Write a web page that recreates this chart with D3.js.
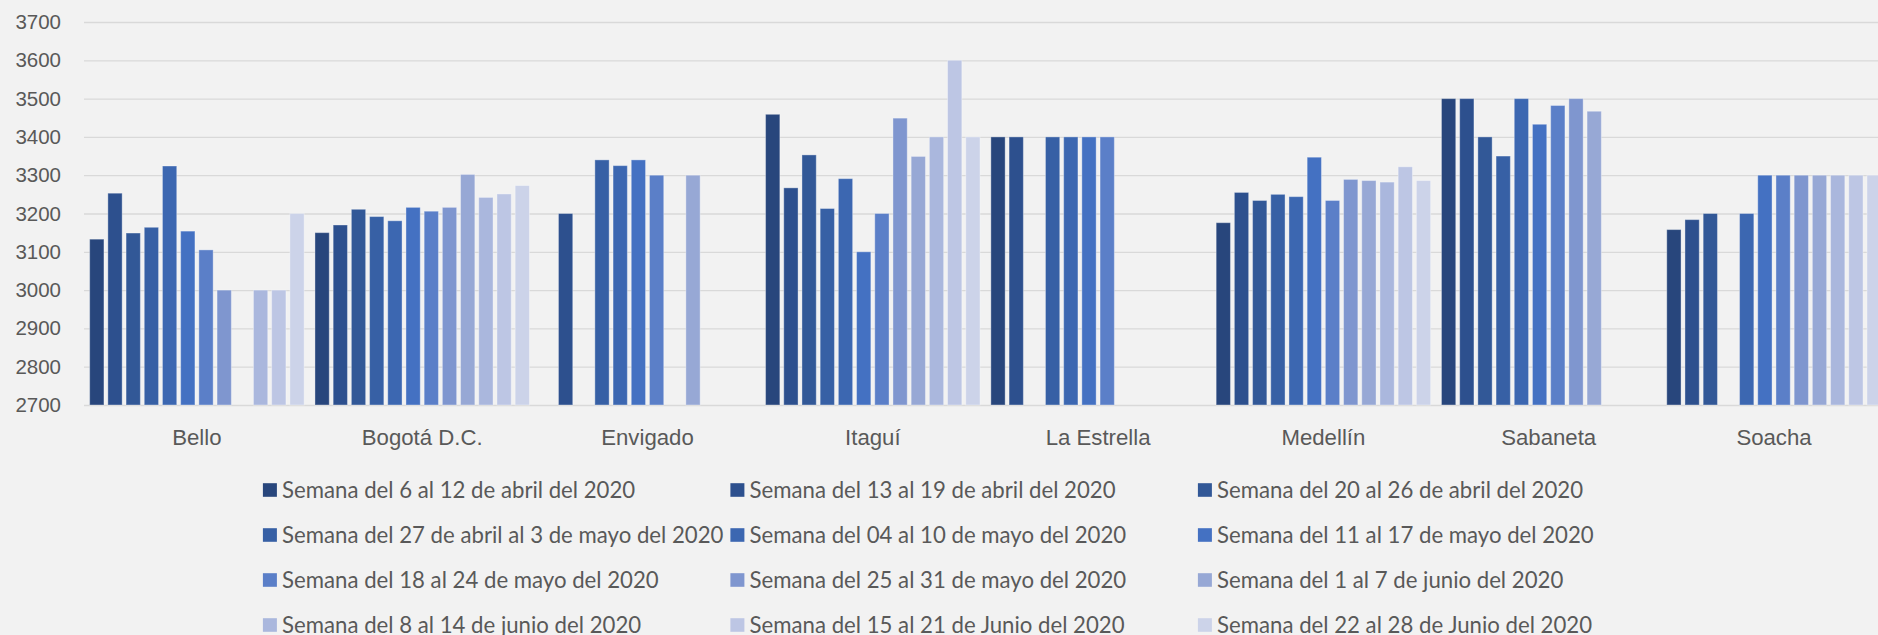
<!DOCTYPE html>
<html>
<head>
<meta charset="utf-8">
<script src="https://cdn.jsdelivr.net/npm/d3@7"></script>
<style>
  body { margin: 0; background: #f2f2f2; }
  svg { display: block; font-family: Lato, "Open Sans", sans-serif; }
</style>
</head>
<body>
<div id="chart-area"></div>
<script>
// Categorias (municipios)
let cities = ["Bello", "Bogotá D.C.", "Envigado", "Itaguí", "La Estrella", "Medellín", "Sabaneta", "Soacha"];

// Semanas (series)
let weeks = [
    "Semana del 6 al 12 de abril del 2020",
    "Semana del 13 al 19 de abril del 2020",
    "Semana del 20 al 26 de abril del 2020",
    "Semana del 27 de abril al 3 de mayo del 2020",
    "Semana del 04 al 10 de mayo del 2020",
    "Semana del 11 al 17 de mayo del 2020",
    "Semana del 18 al 24 de mayo del 2020",
    "Semana del 25 al 31 de mayo del 2020",
    "Semana del 1 al 7 de junio del 2020",
    "Semana del 8 al 14 de junio del 2020",
    "Semana del 15 al 21 de Junio del 2020",
    "Semana del 22 al 28 de Junio del 2020"
];

// Valores por municipio, una entrada por semana (null = sin dato)
let bello      = [3133, 3253, 3149, 3164, 3324, 3154, 3105, 3000, null, 3000, 3000, 3200];
let bogota     = [3150, 3170, 3211, 3192, 3181, 3216, 3206, 3216, 3302, 3242, 3251, 3273];
let envigado   = [null, 3200, null, 3340, 3325, 3340, 3300, null, 3300, null, null, null];
let itagui     = [3459, 3267, 3353, 3213, 3291, 3100, 3200, 3449, 3349, 3400, 3600, 3400];
let laEstrella = [3400, 3400, null, 3400, 3400, 3400, 3400, null, null, null, null, null];
let medellin   = [3176, 3255, 3234, 3250, 3244, 3347, 3234, 3289, 3286, 3282, 3322, 3286];
let sabaneta   = [3500, 3500, 3400, 3350, 3500, 3433, 3482, 3500, 3467, null, null, null];
let soacha     = [3158, 3184, 3200, null, 3200, 3300, 3300, 3300, 3300, 3300, 3300, 3300];

let yTicks = [2700, 2800, 2900, 3000, 3100, 3200, 3300, 3400, 3500, 3600, 3700];

let colors = ["#28467c", "#2d508e", "#325897", "#3760a5", "#3c67b1", "#4471c2",
              "#5b7fc8", "#7f96cf", "#97a8d5", "#aab7dd", "#bdc6e4", "#ccd3e9"];

let rows = [bello, bogota, envigado, itagui, laEstrella, medellin, sabaneta, soacha];

let totalW = 1878, totalH = 635;
let plotLeft = 84.25, plotTop = 22, plotBottom = 405;
let bandW = 225.3;

let svg = d3.select("#chart-area")
    .append("svg")
    .attr("width", totalW)
    .attr("height", totalH);

svg.append("rect")
    .attr("width", totalW)
    .attr("height", totalH)
    .attr("fill", "#f2f2f2");

// Escalas
let x0 = d3.scaleBand()
    .domain(cities)
    .range([plotLeft, plotLeft + bandW * cities.length])
    .padding(0);

let x1 = d3.scaleBand()
    .domain(d3.range(weeks.length))
    .range([0, x0.bandwidth()])
    .paddingInner(0.215)
    .paddingOuter(0.2975);

let y = d3.scaleLinear()
    .domain([2700, 3700])
    .range([plotBottom, plotTop]);

// Y Axis + lineas de cuadricula
let yAxisCall = d3.axisLeft(y)
    .tickValues(yTicks)
    .tickSize(-(totalW - 84))
    .tickPadding(23)
    .tickFormat(d3.format("d"));

let yAxis = svg.append("g")
    .attr("class", "y axis")
    .attr("transform", "translate(84,0)")
    .call(yAxisCall);

yAxis.select(".domain").remove();
yAxis.selectAll(".tick line")
    .attr("stroke", "#d9d9d9")
    .attr("stroke-width", 1.3);
yAxis.selectAll(".tick text")
    .attr("fill", "#595959")
    .attr("font-size", "20.5px");

// X Axis (solo etiquetas)
let xAxis = svg.append("g")
    .attr("class", "x axis")
    .attr("transform", "translate(0," + plotBottom + ")")
    .call(d3.axisBottom(x0).tickSize(0).tickPadding(0));

xAxis.select(".domain").remove();
xAxis.selectAll(".tick text")
    .attr("fill", "#595959")
    .attr("font-size", "22.2px")
    .attr("dy", null)
    .attr("y", 39.5);

// Barras
let groups = svg.append("g")
    .selectAll("g")
    .data(cities)
    .enter()
    .append("g")
    .attr("transform", function(d){ return "translate(" + x0(d) + ",0)"; });

groups.selectAll("rect")
    .data(function(d, i){
        return rows[i].map(function(v, j){ return { week: j, value: v }; })
            .filter(function(e){ return e.value !== null; });
    })
    .enter()
    .append("rect")
    .attr("x", function(d){ return x1(d.week); })
    .attr("y", function(d){ return y(d.value); })
    .attr("width", x1.bandwidth())
    .attr("height", function(d){ return plotBottom - y(d.value); })
    .attr("fill", function(d){ return colors[d.week]; })
    .attr("stroke", "rgba(255,255,255,0.35)")
    .attr("stroke-width", 1);

// Leyenda: 3 columnas x 4 filas
let legend = svg.append("g").attr("class", "legend");

let items = legend.selectAll("g")
    .data(weeks)
    .enter()
    .append("g")
    .attr("transform", function(d, i){
        let col = i % 3, row = Math.floor(i / 3);
        return "translate(" + (262.9 + col * 467.5) + "," + (490 + row * 45) + ")";
    });

items.append("rect")
    .attr("x", 0)
    .attr("y", -6.8)
    .attr("width", 14)
    .attr("height", 13.6)
    .attr("fill", function(d, i){ return colors[i]; });

items.append("text")
    .attr("x", 19.2)
    .attr("y", 0)
    .attr("dy", "0.36em")
    .attr("font-size", "22.2px")
    .attr("fill", "#595959")
    .text(function(d){ return d; });
</script>
</body>
</html>
